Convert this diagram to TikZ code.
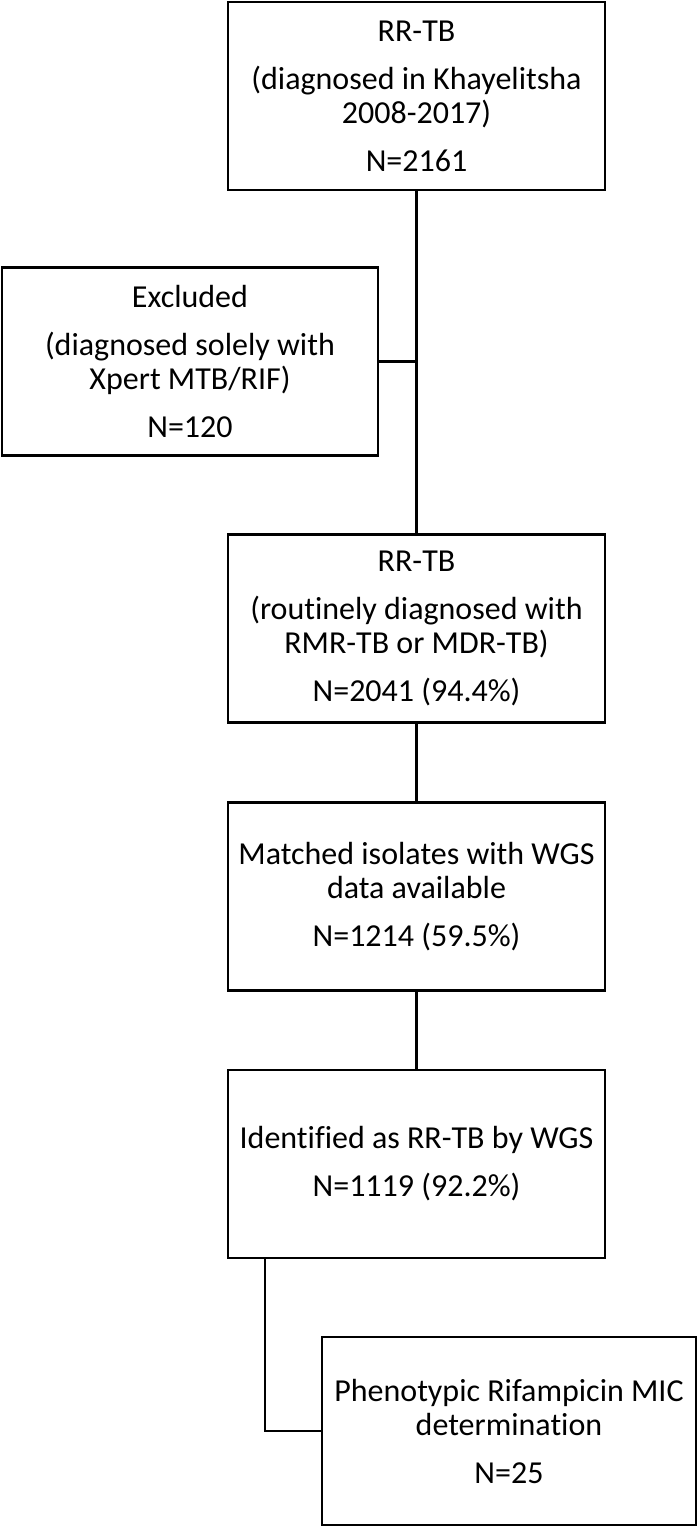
\documentclass[tikz,border=0pt]{standalone}
\usepackage{fontspec}
\setmainfont{Carlito}[Ligatures=NoCommon]

\begin{document}
\begin{tikzpicture}[x=0.5pt,y=-0.5pt]
	\tikzstyle{stage}=[rectangle,draw,line width=1.2pt,align=center,inner sep=0pt,minimum width=188.5pt,minimum height=94pt,font=\fontsize{16}{17}\selectfont]
	\tikzstyle{link}=[line width=1.2pt]
	\useasboundingbox (0,0) rectangle (700,1528);

	\node[stage] (diag) at (416.5,96) {RR-TB\\[7pt](diagnosed in Khayelitsha\\2008-2017)\\[7pt]N=2161};
	\node[stage,minimum width=188pt] (excl) at (190,361.5) {Excluded\\[7pt](diagnosed solely with\\Xpert MTB/RIF)\\[7pt]N=120};
	\node[stage] (rr) at (416.5,628.5) {RR-TB\\[7pt](routinely diagnosed with\\RMR-TB or MDR-TB)\\[7pt]N=2041 (94.4\%)};
	\node[stage] (wgs) at (416.5,896.5) {Matched isolates with WGS\\data available\\[7pt]N=1214 (59.5\%)};
	\node[stage] (ident) at (416.5,1164) {Identified as RR-TB by WGS\\[7pt]N=1119 (92.2\%)};
	\node[stage,minimum width=187pt] (pheno) at (509,1431) {Phenotypic Rifampicin MIC\\determination\\[7pt]N=25};

	\coordinate (excljoin) at (diag.south |- excl.east);
	\coordinate (identfoot) at ([xshift=19pt]ident.south west);
	\draw[link] (diag) -- (rr);
	\draw[link] (excl.east) -- (excljoin);
	\draw[link] (rr) -- (wgs);
	\draw[link] (wgs) -- (ident);
	\draw[link] (identfoot) |- (pheno.west);
\end{tikzpicture}
\end{document}
